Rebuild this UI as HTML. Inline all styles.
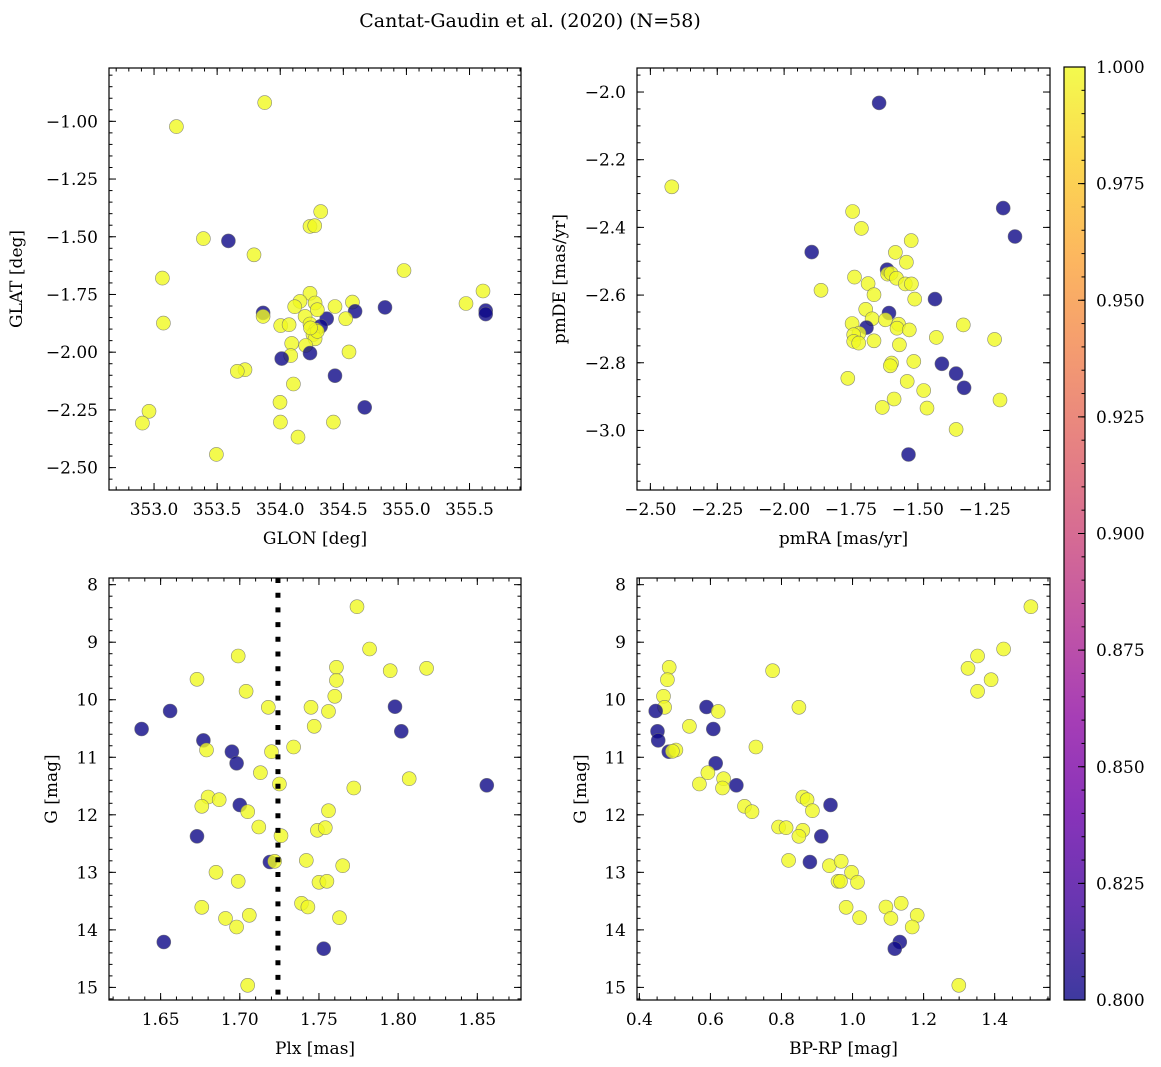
<!DOCTYPE html>
<html><head><meta charset="utf-8">
<style>
html,body{margin:0;padding:0;background:#fff;}
svg{display:block;font-family:"DejaVu Serif","Liberation Serif",serif;}
</style></head>
<body>
<svg id="fig" width="1161" height="1067" viewBox="0 0 1161 1067" xmlns="http://www.w3.org/2000/svg">
<rect width="1161" height="1067" fill="#fff"/>
<text x="530" y="27" font-size="19" text-anchor="middle">Cantat-Gaudin et al. (2020) (N=58)</text>
<defs>
<linearGradient id="plasma" x1="0" y1="1" x2="0" y2="0">
<stop offset="0" stop-color="#0d0887"/><stop offset="0.1" stop-color="#41049d"/><stop offset="0.2" stop-color="#6a00a8"/>
<stop offset="0.3" stop-color="#8f0da4"/><stop offset="0.4" stop-color="#b12a90"/><stop offset="0.5" stop-color="#cc4778"/>
<stop offset="0.6" stop-color="#e16462"/><stop offset="0.7" stop-color="#f2844b"/><stop offset="0.8" stop-color="#fca636"/>
<stop offset="0.9" stop-color="#fcce25"/><stop offset="1" stop-color="#f0f921"/>
</linearGradient>
</defs>
<g id="layer"></g>
</svg>
<script>
// Panel 1: GLON / GLAT
const p1x=[353.877,353.177,354.321,354.236,354.273,353.391,353.589,353.792,354.981,353.066,355.607,355.472,355.628,355.628,354.830,354.572,354.593,354.434,354.519,354.368,354.236,354.157,354.115,354.276,354.294,354.197,354.236,354.321,354.281,354.260,354.276,353.864,353.864,353.074,354.004,354.070,354.091,354.202,354.236,354.083,354.012,354.545,354.434,353.721,353.660,354.104,354.669,353.998,352.960,352.908,354.001,354.421,354.141,353.494,354.294,354.240];
const p1y=[-0.919,-1.023,-1.391,-1.455,-1.452,-1.508,-1.518,-1.578,-1.646,-1.679,-1.735,-1.789,-1.820,-1.835,-1.806,-1.783,-1.823,-1.802,-1.855,-1.855,-1.745,-1.780,-1.803,-1.787,-1.816,-1.845,-1.878,-1.888,-1.903,-1.924,-1.942,-1.830,-1.845,-1.874,-1.885,-1.881,-1.962,-1.971,-2.004,-2.015,-2.028,-1.999,-2.102,-2.076,-2.083,-2.138,-2.239,-2.217,-2.256,-2.307,-2.303,-2.303,-2.368,-2.443,-1.910,-1.895];
const p1m=[1,1,1,1,1,1,0.8,1,1,1,1,1,0.8,0.8,0.8,1,0.8,1,1,0.8,1,1,1,1,1,1,1,0.8,1,1,1,0.8,1,1,1,1,1,1,0.8,1,0.8,1,0.8,1,1,1,0.8,1,1,1,1,1,1,1,1,1];
// Panel 2: pmRA / pmDE
const p2x=[-1.645,-2.420,-1.181,-1.137,-1.744,-1.711,-1.897,-1.525,-1.584,-1.543,-1.615,-1.613,-1.600,-1.580,-1.547,-1.524,-1.737,-1.686,-1.664,-1.862,-1.512,-1.436,-1.695,-1.608,-1.671,-1.621,-1.746,-1.692,-1.720,-1.740,-1.740,-1.721,-1.664,-1.572,-1.578,-1.532,-1.569,-1.431,-1.330,-1.213,-1.515,-1.598,-1.603,-1.410,-1.357,-1.327,-1.762,-1.540,-1.478,-1.589,-1.633,-1.466,-1.193,-1.357,-1.535];
const p2y=[-2.032,-2.280,-2.343,-2.427,-2.353,-2.403,-2.473,-2.439,-2.474,-2.503,-2.525,-2.538,-2.536,-2.550,-2.567,-2.567,-2.547,-2.566,-2.599,-2.586,-2.612,-2.612,-2.642,-2.653,-2.670,-2.673,-2.684,-2.696,-2.713,-2.717,-2.737,-2.742,-2.735,-2.686,-2.698,-2.703,-2.747,-2.725,-2.688,-2.731,-2.796,-2.801,-2.809,-2.803,-2.832,-2.874,-2.846,-2.855,-2.882,-2.907,-2.932,-2.934,-2.910,-2.997,-3.071];
const p2m=[0.8,1,0.8,0.8,1,1,0.8,1,1,1,0.8,1,1,1,1,1,1,1,1,1,1,0.8,1,0.8,1,1,1,0.8,1,1,1,1,1,1,1,1,1,1,1,1,1,1,1,0.8,0.8,0.8,1,1,1,1,1,1,1,1,0.8];
// Panel 3: Plx / G
const p3x=[1.774,1.782,1.699,1.761,1.795,1.818,1.673,1.761,1.704,1.760,1.718,1.745,1.756,1.798,1.656,1.638,1.747,1.802,1.677,1.679,1.695,1.720,1.734,1.698,1.713,1.725,1.807,1.772,1.856,1.680,1.687,1.676,1.700,1.705,1.756,1.712,1.749,1.754,1.726,1.673,1.719,1.722,1.742,1.765,1.685,1.699,1.750,1.755,1.739,1.743,1.676,1.706,1.691,1.763,1.698,1.652,1.753,1.705];
const p3y=[8.382,9.118,9.240,9.437,9.495,9.454,9.645,9.663,9.854,9.941,10.132,10.132,10.202,10.121,10.196,10.509,10.462,10.549,10.706,10.874,10.903,10.903,10.822,11.105,11.268,11.465,11.372,11.534,11.488,11.691,11.737,11.853,11.830,11.946,11.928,12.212,12.270,12.224,12.363,12.374,12.820,12.809,12.792,12.884,13.000,13.156,13.174,13.156,13.539,13.603,13.608,13.747,13.800,13.788,13.950,14.211,14.327,14.964];
const p3m=[1,1,1,1,1,1,1,1,1,1,1,1,1,0.8,0.8,0.8,1,0.8,0.8,1,0.8,1,1,0.8,1,1,1,1,0.8,1,1,1,0.8,1,1,1,1,1,1,0.8,0.8,1,1,1,1,1,1,1,1,1,1,1,1,1,1,0.8,0.8,1];
const plxLine=1.7241;
// Panel 4: BP-RP / G
const p4x=[1.502,1.425,1.352,1.325,1.390,1.352,0.775,0.484,0.479,0.468,0.471,0.446,0.589,0.622,0.849,0.541,0.608,0.451,0.453,0.483,0.503,0.493,0.728,0.615,0.593,0.637,0.569,0.634,0.673,0.696,0.717,0.860,0.872,0.887,0.938,0.792,0.813,0.860,0.849,0.912,0.820,0.880,0.935,0.968,0.997,0.959,0.966,1.014,0.982,1.020,1.094,1.137,1.108,1.182,1.168,1.133,1.119,1.299];
const p4y=[8.382,9.118,9.240,9.454,9.651,9.854,9.495,9.437,9.651,9.941,10.132,10.196,10.126,10.202,10.132,10.462,10.509,10.549,10.706,10.903,10.874,10.897,10.822,11.105,11.268,11.372,11.465,11.534,11.488,11.853,11.946,11.691,11.737,11.928,11.830,12.212,12.224,12.270,12.374,12.374,12.792,12.820,12.884,12.809,13.000,13.156,13.156,13.174,13.608,13.788,13.603,13.539,13.800,13.747,13.950,14.211,14.327,14.964];
const p4m=[1,1,1,1,1,1,1,1,1,1,1,0.8,0.8,1,1,1,0.8,0.8,0.8,0.8,1,1,1,0.8,1,1,1,1,0.8,1,1,1,1,1,0.8,1,1,1,1,0.8,1,0.8,1,1,1,1,1,1,1,1,1,1,1,1,1,0.8,0.8,1];
// tick labels
const p1xt=[353.0,353.5,354.0,354.5,355.0,355.5];
const p1yt=[-1.00,-1.25,-1.50,-1.75,-2.00,-2.25,-2.50];
const p2xt=[-2.50,-2.25,-2.00,-1.75,-1.50,-1.25];
const p2yt=[-2.0,-2.2,-2.4,-2.6,-2.8,-3.0];
const p3xt=[1.65,1.70,1.75,1.80,1.85];
const gTicks=[8,9,10,11,12,13,14,15];
const p4xt=[0.4,0.6,0.8,1.0,1.2,1.4];
const cbTicks=[0.800,0.825,0.850,0.875,0.900,0.925,0.950,0.975,1.000];

const NS="http://www.w3.org/2000/svg";
const layer=document.getElementById('layer');
const FS=17;
function mk(tag,attrs,parent){const e=document.createElementNS(NS,tag);for(const k in attrs)e.setAttribute(k,attrs[k]);(parent||layer).appendChild(e);return e;}
const stops=[[0,[13,8,135]],[0.1,[65,4,157]],[0.2,[106,0,168]],[0.3,[143,13,164]],[0.4,[177,42,144]],[0.5,[204,71,120]],[0.6,[225,100,98]],[0.7,[242,132,75]],[0.8,[252,166,54]],[0.9,[252,206,37]],[1,[240,249,33]]];
function plasma(t){t=Math.max(0,Math.min(1,t));for(let i=1;i<stops.length;i++){if(t<=stops[i][0]){const a=stops[i-1],b=stops[i];const f=(t-a[0])/(b[0]-a[0]);const c=a[1].map((v,j)=>Math.round(v+(b[1][j]-v)*f));return `rgb(${c[0]},${c[1]},${c[2]})`;}}return 'rgb(240,249,33)';}
function fmt(v,d){const s=Math.abs(v).toFixed(d);return (v<0?'−':'')+s;}

function panel(c){
  const g=mk('g',{});
  
  
  const sx=v=>c.x0+(v-c.xd[0])/(c.xd[1]-c.xd[0])*c.w;
  const sy=v=>c.y0+(v-c.yd[0])/(c.yd[1]-c.yd[0])*c.h;
  const pts=mk('g',{},g);
  
  
  for(let i=0;i<c.xs.length;i++){
    const t=(c.ms[i]-0.8)/0.2;
    const p=mk('circle',{cx:sx(c.xs[i]).toFixed(1),cy:sy(c.ys[i]).toFixed(1),r:7,fill:plasma(t),'fill-opacity':0.8,stroke:'#6e6e6e','stroke-width':0.6,'stroke-opacity':0.8},pts);
    
    
  }
  if(c.vline!==undefined){
    const l=mk('line',{x1:sx(c.vline),x2:sx(c.vline),y1:c.y0,y2:c.y0+c.h,stroke:'#000','stroke-width':5,'stroke-dasharray':'5 9.7'},g);
    
    
  }
  const fr=mk('rect',{x:c.x0,y:c.y0,width:c.w,height:c.h,fill:'none',stroke:'#000','stroke-width':1.2},g);
  
  
  const tg=mk('g',{stroke:'#000','stroke-width':1},g);
  
  
  function inX(v){const p=sx(v);return p>=c.x0-0.5&&p<=c.x0+c.w+0.5;}
  function inY(v){const p=sy(v);return p>=c.y0-0.5&&p<=c.y0+c.h+0.5;}
  const xlo=Math.min(...c.xd),xhi=Math.max(...c.xd),ylo=Math.min(...c.yd),yhi=Math.max(...c.yd);
  for(let k=Math.ceil(xlo/c.xm);k*c.xm<=xhi;k++){const v=k*c.xm;if(!inX(v))continue;const p=sx(v);
    mk('line',{x1:p,x2:p,y1:c.y0+c.h,y2:c.y0+c.h-3.5},tg);mk('line',{x1:p,x2:p,y1:c.y0,y2:c.y0+3.5},tg);}
  for(let k=Math.ceil(ylo/c.ym);k*c.ym<=yhi;k++){const v=k*c.ym;if(!inY(v))continue;const p=sy(v);
    mk('line',{x1:c.x0,x2:c.x0+3.5,y1:p,y2:p},tg);mk('line',{x1:c.x0+c.w,x2:c.x0+c.w-3.5,y1:p,y2:p},tg);}
  c.xt.forEach(v=>{const p=sx(v);
    mk('line',{x1:p,x2:p,y1:c.y0+c.h,y2:c.y0+c.h-7},tg);mk('line',{x1:p,x2:p,y1:c.y0,y2:c.y0+7},tg);
    const t=mk('text',{x:p,y:c.y0+c.h+25,'font-size':FS,'text-anchor':'middle'},g);t.textContent=fmt(v,c.xdp);
    });
  c.yt.forEach(v=>{const p=sy(v);
    mk('line',{x1:c.x0,x2:c.x0+7,y1:p,y2:p},tg);mk('line',{x1:c.x0+c.w,x2:c.x0+c.w-7,y1:p,y2:p},tg);
    const t=mk('text',{x:c.x0-11,y:p+6,'font-size':FS,'text-anchor':'end'},g);t.textContent=fmt(v,c.ydp);
    });
  const xl=mk('text',{x:c.x0+c.w/2,y:c.y0+c.h+54,'font-size':FS,'text-anchor':'middle'},g);xl.textContent=c.xlab;
  
  const yx=c.ylx,yy=c.y0+c.h/2;
  const yl=mk('text',{x:yx,y:yy,'font-size':FS,'text-anchor':'middle',transform:`rotate(-90 ${yx} ${yy})`},g);yl.textContent=c.ylab;
  
}
panel({name:'glon-glat-panel',x0:109,y0:68,w:412,h:422,xd:[352.643,355.908],yd:[-0.769,-2.597],xs:p1x,ys:p1y,ms:p1m,xt:p1xt,yt:p1yt,xm:0.1,ym:0.05,xdp:1,ydp:2,xlab:'GLON [deg]',ylab:'GLAT [deg]',ylx:22});
panel({name:'propermotion-panel',x0:637,y0:68,w:413,h:422,xd:[-2.55,-1.006],yd:[-1.929,-3.176],xs:p2x,ys:p2y,ms:p2m,xt:p2xt,yt:p2yt,xm:0.05,ym:0.05,xdp:2,ydp:1,xlab:'pmRA [mas/yr]',ylab:'pmDE [mas/yr]',ylx:565});
panel({name:'plx-g-panel',x0:109,y0:578,w:412,h:422,xd:[1.6174,1.8776],yd:[7.884,15.219],xs:p3x,ys:p3y,ms:p3m,xt:p3xt,yt:gTicks,xm:0.01,ym:0.2,xdp:2,ydp:0,xlab:'Plx [mas]',ylab:'G [mag]',ylx:57,vline:plxLine});
panel({name:'cmd-panel',x0:637,y0:578,w:413,h:422,xd:[0.3934,1.5557],yd:[7.884,15.219],xs:p4x,ys:p4y,ms:p4m,xt:p4xt,yt:gTicks,xm:0.05,ym:0.2,xdp:1,ydp:0,xlab:'BP-RP [mag]',ylab:'G [mag]',ylx:586});

// colorbar
const cb=mk('g',{});


const cx0=1064,cw=21,cyTop=67,cyBot=1000;
const cs=v=>cyBot-(v-0.8)/0.2*(cyBot-cyTop);
mk('rect',{x:cx0,y:cyTop,width:cw,height:cyBot-cyTop,fill:'url(#plasma)','fill-opacity':0.8},cb);
mk('rect',{x:cx0,y:cyTop,width:cw,height:cyBot-cyTop,fill:'none',stroke:'#000','stroke-width':1.2},cb);
for(let k=160;k<=200;k++){const v=k*0.005;const p=cs(v);mk('line',{x1:cx0+cw,x2:cx0+cw-3.5,y1:p,y2:p,stroke:'#000','stroke-width':1},cb);}
cbTicks.forEach(v=>{const p=cs(v);mk('line',{x1:cx0+cw,x2:cx0+cw-7,y1:p,y2:p,stroke:'#000','stroke-width':1},cb);
  const t=mk('text',{x:cx0+cw+11,y:p+6,'font-size':FS},cb);t.textContent=v.toFixed(3);
  });
</script>
</body></html>
